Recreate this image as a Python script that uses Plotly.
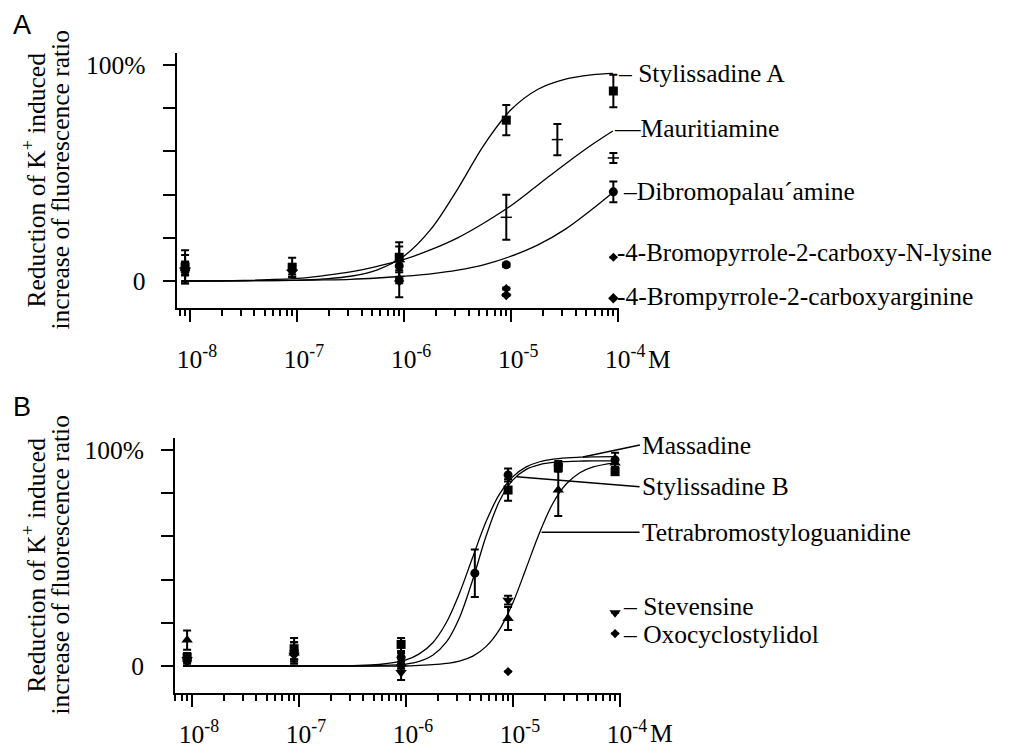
import math
import plotly.graph_objects as go

SERIF = "Liberation Serif"
SANS = "Liberation Sans"

# ---------------- Panel A data (concentration in M, response in %) ----------------
A_conc = [9e-9, 9e-8, 9e-7, 9e-6, 9e-5]
styA_val = [6.5, 6.3, 11, 74.5, 88]
styA_err = [7.7, 4.5, 7, 7, 7.5]

maur_conc = [9e-9, 9e-8, 9e-7, 9e-6, 2.7e-5, 9e-5]
maur_val = [6, 5, 9, 29.5, 65.5, 57]
maur_err = [6, 3, 7, 10.4, 7.2, 2.3]

dibr_val = [5.5, 5, 7, 7.5, 41.3]
dibr_err = [3, 2, 2, 1, 4.8]

lys_conc = [9e-9, 9e-7, 9e-6, 9e-5]
lys_val = [4, 1, -3.5, 11]
lys_err = [5, 8.5, 0.5, 0]

arg_conc = [9e-9, 9e-7, 9e-6, 9e-5]
arg_val = [5, 0, -6.5, -8]
arg_err = [2, 1, 0.5, 0]

# fitted curves of panel A, values at these concentrations
A_curve_conc = [8.91e-9, 3.16e-8, 1e-7, 1.78e-7, 3.16e-7, 5.62e-7, 1e-6, 1.78e-6,
                3.16e-6, 5.62e-6, 1e-5, 1.78e-5, 3.16e-5, 5.62e-5, 8.91e-5]
styA_curve_val = [0, 0.1, 0.4, 1, 2.2, 5.2, 11.6, 24, 42.6, 63.3, 79.4, 88.8, 93.4, 95.5, 96.2]
maur_curve_val = [0, 0.3, 1.2, 2.5, 4.2, 6.8, 10, 14.5, 20, 27, 35, 44.5, 54, 63, 69.5]
dibr_curve_val = [0, 0.1, 0.3, 0.5, 0.8, 1.4, 2.2, 3.3, 5, 7.6, 11.5, 16.7, 23.8, 33, 41]

labels_A = ["Stylissadine A", "Mauritiamine", "Dibromopalau\u00b4amine",
            "4-Bromopyrrole-2-carboxy-N-lysine", "4-Brompyrrole-2-carboxyarginine"]
labels_A_dash = ["\u2013 ", "\u2014", "\u2013", "-", "-"]
labels_A_val = [96.3, 70.8, 41.3, 13, -7.3]
labels_A_size = [25.5, 25.5, 25.5, 25, 25.5]

# ---------------- Panel B data ----------------
B_conc = [9e-9, 9e-8, 9e-7, 9e-6, 2.65e-5, 9e-5]
mass_conc = [9e-9, 9e-8, 9e-7, 4.4e-6, 9e-6, 2.65e-5, 9e-5]
mass_val = [3, 7, 4, 43, 88.5, 93, 95.5]
mass_err = [2, 4, 2, 11, 3, 2, 3.3]

styB_val = [4, 8, 10, 81.5, 92, 90]
styB_err = [2, 5, 3, 5, 2, 1.5]

tetra_val = [12, 6, 1, 22, 81.5, 94]
tetra_err = [4.5, 5, 3, 5.3, 12, 2]

stev_conc = [9e-9, 9e-8, 9e-7, 9e-6, 9e-5]
stev_val = [3, 5, -3, 30.5, 24.7]
stev_err = [3, 3, 3.5, 2, 0]

oxo_conc = [9e-9, 9e-8, 9e-7, 9e-6, 9e-5]
oxo_val = [2, 5, 0, -2.6, 15]
oxo_err = [2, 2, 1, 0, 0]

B_curve_conc = [8.91e-9, 3.16e-8, 1e-7, 3.16e-7, 5.62e-7, 1e-6, 1.33e-6, 1.78e-6, 2.37e-6,
                3.16e-6, 4.22e-6, 5.62e-6, 7.5e-6, 1e-5, 1.33e-5, 1.78e-5, 2.37e-5, 3.16e-5,
                4.22e-5, 5.62e-5, 8.91e-5]
mass_curve_val = [0, 0, 0, 0.2, 0.7, 2.8, 5.6, 10.8, 19.9, 33.7, 50.6, 67, 79.7, 87.7, 92.2,
                  94.6, 95.8, 96.4, 96.7, 96.9, 97]
styB_curve_val = [0, 0, 0, 0, 0.2, 0.9, 2.1, 5, 10.9, 22.4, 40.2, 60.3, 76.5, 86.2, 91.1,
                  93.3, 94.3, 94.7, 94.9, 95, 95]
tetra_curve_val = [0, 0, 0, 0, 0, 0, 0.3, 0.6, 1.2, 2.3, 4.6, 9.1, 17, 29.4, 45.4,
                   62, 75.5, 84.4, 89.5, 92.2, 94.1]

# leader labels in B: label, point on its curve, tail offset (px)
labels_B_lead = ["Massadine", "Stylissadine B", "Tetrabromostyloguanidine"]
labels_B_head_conc = [4.5e-5, 1.08e-5, 1.85e-5]
labels_B_head_val = [96.8, 87.6, 62]
labels_B_dx = [57, 123, 98]
labels_B_dy = [-12, 10, 0]
labels_B_plain = ["Stevensine", "Oxocyclostylidol"]
labels_B_plain_val = [27.5, 14.8]

# axes ticks
decades = [1e-8, 1e-7, 1e-6, 1e-5, 1e-4]
decade_text = ["10<sup>-8</sup>", "10<sup>-7</sup>", "10<sup>-6</sup>", "10<sup>-5</sup>", "10<sup>-4</sup>"]
y_ticks = [0, 20, 40, 60, 80, 100]
y_ticktext = ["0", "", "", "", "", "100%"]
ytitle_lines = ["Reduction of K<sup>+</sup> induced", "increase of fluorescence ratio"]

# page geometry: the html body has an 8px margin
OFF = 8
W, H = 1010 - 2 * OFF, 753 - 2 * OFF


def px_x(X):
    return (X - OFF) / W


def px_y(Y):
    return 1 - (Y - OFF) / H


fig = go.Figure()


def add_curve(conc, val, xa, ya, name):
    fig.add_trace(go.Scatter(x=conc, y=val, mode="lines", name=name, xaxis=xa, yaxis=ya,
                             line=dict(color="black", width=1.3, shape="spline", smoothing=1),
                             showlegend=False, hoverinfo="skip"))


def add_points(conc, val, err, symbol, size, xa, ya, name, lw=0):
    fig.add_trace(go.Scatter(x=conc, y=val, mode="markers", name=name, xaxis=xa, yaxis=ya,
                             marker=dict(symbol=symbol, size=size, color="black",
                                         line=dict(color="black", width=lw)),
                             error_y=dict(type="data", array=err, visible=True, color="black",
                                          thickness=2, width=4),
                             showlegend=False, cliponaxis=False))


# Panel A
add_curve(A_curve_conc, styA_curve_val, "x", "y", "Stylissadine A fit")
add_curve(A_curve_conc, maur_curve_val, "x", "y", "Mauritiamine fit")
add_curve(A_curve_conc, dibr_curve_val, "x", "y", "Dibromopalau´amine fit")
add_points(lys_conc, lys_val, lys_err, "diamond", 7, "x", "y", labels_A[3])
add_points(arg_conc, arg_val, arg_err, "diamond", 8, "x", "y", labels_A[4])
add_points(A_conc, dibr_val, dibr_err, "circle", 9, "x", "y", labels_A[2])
add_points(maur_conc, maur_val, maur_err, "line-ew-open", 8, "x", "y", labels_A[1], lw=1.5)
add_points(A_conc, styA_val, styA_err, "square", 9, "x", "y", labels_A[0])

# Panel B
add_curve(B_curve_conc, mass_curve_val, "x2", "y2", "Massadine fit")
add_curve(B_curve_conc, styB_curve_val, "x2", "y2", "Stylissadine B fit")
add_curve(B_curve_conc, tetra_curve_val, "x2", "y2", "Tetrabromostyloguanidine fit")
add_points(oxo_conc, oxo_val, oxo_err, "diamond", 7, "x2", "y2", "Oxocyclostylidol")
add_points(stev_conc, stev_val, stev_err, "triangle-down", 10, "x2", "y2", "Stevensine")
add_points(B_conc, tetra_val, tetra_err, "triangle-up", 10, "x2", "y2", "Tetrabromostyloguanidine")
add_points(B_conc, styB_val, styB_err, "square", 9, "x2", "y2", "Stylissadine B")
add_points(mass_conc, mass_val, mass_err, "circle", 9, "x2", "y2", "Massadine")

FS = 25.5
tickfont = dict(family=SERIF, size=FS, color="black")


def xaxis_cfg(domain, rng, standoff, anchor):
    return dict(type="log", domain=domain, range=rng, anchor=anchor, automargin=False,
                showline=True, linecolor="black", linewidth=2,
                ticks="outside", ticklen=12, tickwidth=2, tickcolor="black",
                tickmode="array", tickvals=decades, ticktext=decade_text,
                ticklabelstandoff=standoff, ticklabelshift=7,
                minor=dict(ticks="outside", ticklen=6, tickwidth=1.5, tickcolor="black",
                           dtick="D1", showgrid=False),
                showgrid=False, zeroline=False, tickfont=tickfont, fixedrange=True)


def yaxis_cfg(domain, anchor):
    return dict(domain=domain, range=[-12.5, 105.6], anchor=anchor, automargin=False,
                showline=True, linecolor="black", linewidth=2,
                ticks="outside", ticklen=12, tickwidth=2, tickcolor="black",
                tickmode="array", tickvals=y_ticks, ticktext=y_ticktext,
                ticklabelstandoff=12, showgrid=False, zeroline=False, tickfont=tickfont,
                fixedrange=True)


fig.update_layout(
    width=W, height=H, autosize=False,
    margin=dict(l=0, r=0, t=0, b=0, pad=0, autoexpand=False),
    paper_bgcolor="white", plot_bgcolor="white",
    font=dict(family=SERIF, size=FS, color="black"),
    xaxis=xaxis_cfg([px_x(176.5), px_x(619)], [-8.126, -3.993], 15, "y"),
    yaxis=yaxis_cfg([px_y(308), px_y(53)], "x"),
    xaxis2=xaxis_cfg([px_x(175), px_x(620.5)], [-8.159, -3.995], 5, "y2"),
    yaxis2=yaxis_cfg([px_y(693), px_y(438)], "x2"),
)

ann = []
# y-axis titles, one rotated annotation per line
for yc in (180.5, 565.5):
    for line, xc in zip(ytitle_lines, (35, 60)):
        ann.append(dict(text=line, xref="paper", yref="paper", x=px_x(xc), y=px_y(yc),
                        xanchor="center", yanchor="middle", textangle=-90, showarrow=False,
                        font=dict(family=SERIF, size=25.5, color="black")))
for letter, yc in (("A", 25), ("B", 407)):
    ann.append(dict(text=letter, xref="paper", yref="paper", x=px_x(22), y=px_y(yc),
                    xanchor="center", yanchor="middle", showarrow=False,
                    font=dict(family=SANS, size=27, color="black")))
# unit "M" after 10^-4
for xr, yr, shift in (("x domain", "y domain", -52), ("x2 domain", "y2 domain", -40)):
    ann.append(dict(text="M", xref=xr, yref=yr, x=1, y=0, xanchor="left", yanchor="middle",
                    xshift=27, yshift=shift, showarrow=False, font=tickfont))

# panel A labels
a_shift = [-3, -7, 2, -4, -4]
for lab, dash, val, sh, fs in zip(labels_A, labels_A_dash, labels_A_val, a_shift, labels_A_size):
    ann.append(dict(text=dash + lab, xref="x domain", yref="y", x=1, y=val, xanchor="left",
                    yanchor="middle", xshift=sh, showarrow=False,
                    font=dict(family=SERIF, size=fs, color="black")))

# panel B leader labels
for lab, hc, hv, dx, dy in zip(labels_B_lead, labels_B_head_conc, labels_B_head_val,
                               labels_B_dx, labels_B_dy):
    ann.append(dict(text=lab, xref="x2", yref="y2", x=math.log10(hc), y=hv, ax=dx, ay=dy,
                    xanchor="left", yanchor="middle", showarrow=True, arrowhead=0,
                    arrowwidth=1.5, arrowcolor="black", standoff=0, font=tickfont))
for lab, val in zip(labels_B_plain, labels_B_plain_val):
    ann.append(dict(text="\u2013 " + lab, xref="x2 domain", yref="y2", x=1, y=val,
                    xanchor="left", yanchor="middle", xshift=0, showarrow=False, font=tickfont))

fig.update_layout(annotations=ann)
fig.write_html("out.html")
